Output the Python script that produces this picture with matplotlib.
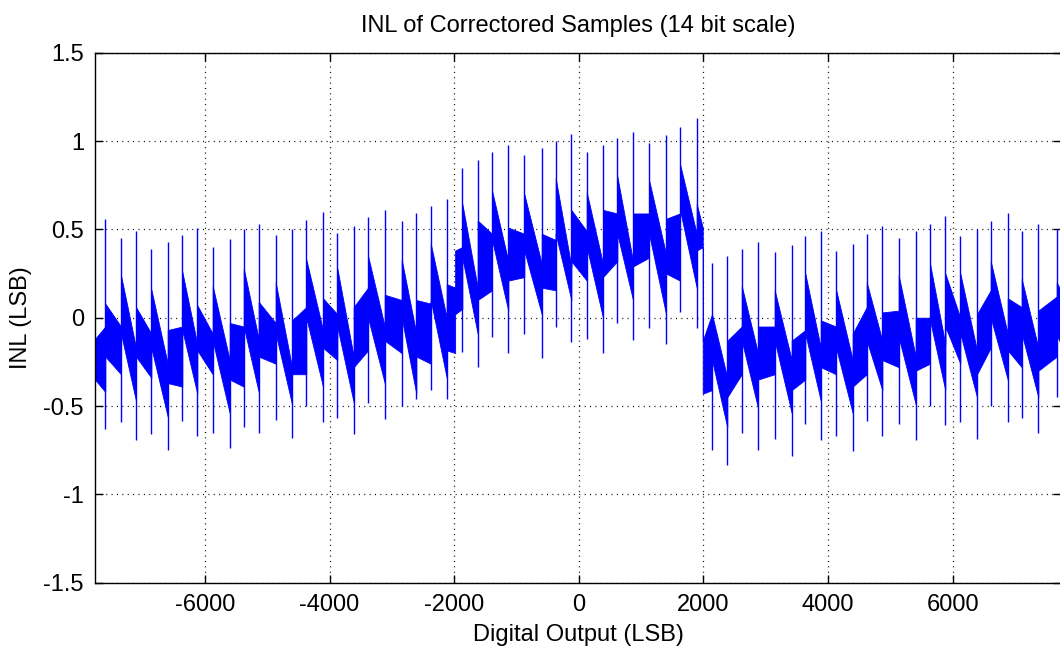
import matplotlib
matplotlib.use("Agg")
import matplotlib.pyplot as plt
import numpy as np

plt.rcParams['font.family'] = ['Liberation Sans', 'DejaVu Sans']
plt.rcParams['axes.unicode_minus'] = False

# Spike positions (LSB)
spike_x = [-7600, -7348, -7107, -6861, -6598, -6364, -6123, -5876, -5603, -5378,
           -5138, -4865, -4603, -4374, -4106, -3876, -3613, -3383, -3115, -2843,
           -2608, -2377, -2120, -1870, -1623, -1393, -1132, -875, -595, -371,
           -120, 127, 388, 618, 870, 1127, 1400, 1624, 1892,
           2138, 2383, 2615, 2876, 3144, 3417, 3635, 3883, 4128, 4396, 4621,
           4871, 5134, 5407, 5637, 5882, 6123, 6391, 6611, 6884, 7108, 7375, 7670]
spike_top = [0.56, 0.45, 0.49, 0.39, 0.43, 0.47, 0.51, 0.40, 0.445, 0.50,
             0.53, 0.47, 0.50, 0.555, 0.60, 0.48, 0.52, 0.57, 0.61, 0.545,
             0.59, 0.63, 0.67, 0.85, 0.89, 0.94, 0.98, 0.92, 0.96, 1.0,
             1.04, 0.94, 0.98, 1.02, 1.05, 0.99, 1.035, 1.08, 1.13,
             0.31, 0.35, 0.39, 0.43, 0.37, 0.41, 0.46, 0.49, 0.38, 0.42, 0.475,
             0.52, 0.45, 0.49, 0.53, 0.575, 0.465, 0.50, 0.55, 0.59, 0.49, 0.53, 0.50]
spike_bot = [-0.63, -0.59, -0.69, -0.66, -0.75, -0.585, -0.67, -0.65, -0.74, -0.62,
             -0.65, -0.58, -0.68, -0.50, -0.59, -0.57, -0.66, -0.48, -0.575, -0.50,
             -0.46, -0.41, -0.46, -0.195, -0.28, -0.11, -0.20, -0.09, -0.23, -0.05,
             -0.14, -0.12, -0.20, -0.03, -0.125, -0.06, -0.15, 0.03, -0.06,
             -0.75, -0.835, -0.65, -0.75, -0.685, -0.78, -0.60, -0.69, -0.67, -0.755, -0.585,
             -0.67, -0.60, -0.69, -0.50, -0.61, -0.59, -0.685, -0.50, -0.59, -0.57, -0.65, -0.45]

# Segment boundaries of the dense band (spikes plus the two level jumps near +-2000)
seg_edges = [-7765, -7600, -7348, -7107, -6861, -6598, -6364, -6123, -5876, -5603, -5378,
             -5138, -4865, -4603, -4374, -4106, -3876, -3613, -3383, -3115, -2843,
             -2608, -2377, -2120, -1985, -1870, -1623, -1393, -1132, -875, -595, -371,
             -120, 127, 388, 618, 870, 1127, 1400, 1624, 1892, 1989,
             2138, 2383, 2615, 2876, 3144, 3417, 3635, 3883, 4128, 4396, 4621,
             4871, 5134, 5407, 5637, 5882, 6123, 6391, 6611, 6884, 7108, 7375, 7670, 7740]
# Band upper / lower envelope at the start and end of each segment
hi_start = [-0.12, 0.08, 0.24, 0.06, 0.16, -0.07, 0.26, 0.07, 0.18, -0.03,
            0.28, 0.09, 0.20, -0.015, 0.33, 0.11, 0.28, 0.06, 0.35, 0.13,
            0.33, 0.10, 0.42, 0.19, 0.38, 0.645, 0.55, 0.72, 0.51, 0.70, 0.475,
            0.79, 0.61, 0.71, 0.61, 0.80, 0.59, 0.78, 0.56, 0.87, 0.645,
            -0.13, 0.02, -0.13, 0.18, -0.05, 0.155, -0.13, 0.25, -0.015, 0.16, -0.09,
            0.20, 0.03, 0.24, 0.0, 0.305, 0.25, 0.25, 0.02, 0.32, 0.11, 0.22, 0.04, 0.20]
hi_end = [-0.05, -0.05, -0.17, -0.09, -0.26, -0.05, -0.15, -0.09, -0.24, -0.05,
          -0.12, -0.03, -0.28, 0.06, -0.07, 0.02, -0.22, 0.17, -0.05, 0.10,
          -0.09, 0.08, 0.0, 0.17, 0.40, 0.17, 0.475, 0.32, 0.475, 0.305, 0.44,
          0.29, 0.49, 0.305, 0.59, 0.32, 0.59, 0.36, 0.59, 0.475, 0.51,
          0.02, -0.34, -0.05, -0.20, -0.05, -0.24, -0.07, -0.17, -0.05, -0.24, 0.06,
          -0.13, 0.04, -0.22, 0.0, -0.15, 0.0, -0.185, 0.155, -0.09, 0.06, -0.17, 0.12, 0.15]
lo_start = [-0.35, -0.22, -0.09, -0.22, -0.17, -0.37, -0.07, -0.185, -0.13, -0.35,
            -0.05, -0.22, -0.09, -0.32, 0.0, -0.17, -0.05, -0.28, 0.0, -0.13,
            0.0, -0.22, 0.10, -0.185, 0.02, 0.34, 0.10, 0.44, 0.21, 0.38, 0.17,
            0.475, 0.32, 0.40, 0.23, 0.475, 0.29, 0.475, 0.25, 0.61, 0.38,
            -0.43, -0.24, -0.45, -0.13, -0.35, -0.13, -0.41, -0.09, -0.28, -0.17, -0.39,
            -0.13, -0.24, -0.11, -0.30, -0.015, -0.05, -0.09, -0.32, 0.0, -0.185, -0.09, -0.30, -0.10]
lo_end = [-0.42, -0.32, -0.47, -0.34, -0.56, -0.39, -0.43, -0.32, -0.54, -0.39,
          -0.42, -0.26, -0.49, -0.32, -0.39, -0.24, -0.48, -0.185, -0.37, -0.20,
          -0.43, -0.26, -0.34, -0.20, 0.05, -0.09, 0.155, 0.04, 0.23, 0.02, 0.155,
          0.10, 0.21, 0.0, 0.32, 0.10, 0.34, 0.02, 0.21, 0.17, 0.40,
          -0.41, -0.62, -0.32, -0.51, -0.32, -0.54, -0.35, -0.47, -0.32, -0.54, -0.32,
          -0.41, -0.28, -0.49, -0.26, -0.41, -0.26, -0.45, -0.17, -0.35, -0.28, -0.45, -0.22, -0.15]

x_ticks = [-6000, -4000, -2000, 0, 2000, 4000, 6000]
y_ticks = [-1.5, -1, -0.5, 0, 0.5, 1, 1.5]
y_ticklabels = ['-1.5', '-1', '-0.5', '0', '0.5', '1', '1.5']

fig = plt.figure(figsize=(10.6, 6.58), dpi=100)
ax = fig.add_axes([95 / 1060, 1 - 582.7 / 658, (1061 - 95) / 1060, 530 / 658])

# Build the band envelope polygon from segment start/end values
bx, bhi, blo = [], [], []
for i in range(len(seg_edges) - 1):
    bx += [seg_edges[i], seg_edges[i + 1]]
    bhi += [hi_start[i], hi_end[i]]
    blo += [lo_start[i], lo_end[i]]
ax.fill_between(bx, blo, bhi, color='#0000ff', lw=0.6, edgecolor='#0000ff', zorder=2)
ax.vlines(spike_x, spike_bot, spike_top, color='#0000ff', lw=1.0, zorder=3)

ax.set_xlim(-7765, 7739)
ax.set_ylim(-1.5, 1.5)
ax.set_xticks(x_ticks)
ax.set_xticklabels([str(v) for v in x_ticks])
ax.set_yticks(y_ticks)
ax.set_yticklabels(y_ticklabels)
ax.grid(True, color='black', linestyle=(0, (0.8, 3.5)), linewidth=0.9)
ax.set_axisbelow(True)
ax.tick_params(direction='in', length=6, width=1, top=True, right=True,
               labelsize=17, pad=8, colors='black')
for s in ax.spines.values():
    s.set_linewidth(1.0)
    s.set_zorder(4)

ax.set_title('INL of Correctored Samples (14 bit scale)', fontsize=17, pad=15)
ax.set_xlabel('Digital Output (LSB)', fontsize=17, labelpad=6)
ax.set_ylabel('INL (LSB)', fontsize=17, labelpad=8)

fig.savefig('out.png', dpi=100)
